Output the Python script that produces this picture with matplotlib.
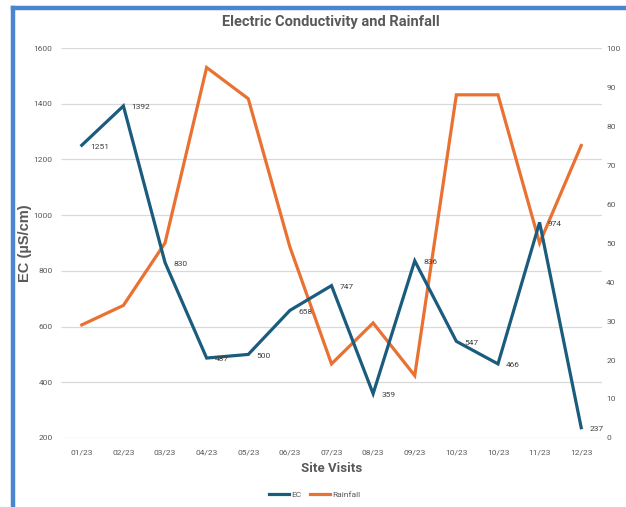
import matplotlib
matplotlib.use("Agg")
import matplotlib.pyplot as plt
from matplotlib.lines import Line2D
from matplotlib import font_manager
import numpy as np

categories = ["01/23", "02/23", "03/23", "04/23", "05/23", "06/23", "07/23",
              "08/23", "09/23", "10/23", "10/23", "11/23", "12/23"]
ec_values = [1251, 1392, 830, 487, 500, 658, 747, 359, 836, 547, 466, 974, 237]
rain_values = [29, 34, 50, 95, 87, 49, 19, 29.5, 16, 88, 88, 50, 75]
left_ticks = [200, 400, 600, 800, 1000, 1200, 1400, 1600]
right_ticks = [0, 10, 20, 30, 40, 50, 60, 70, 80, 90, 100]

EC_COLOR = "#1B5C7E"
RAIN_COLOR = "#E97132"
TXT = "#595959"

names = {f.name for f in font_manager.fontManager.ttflist}
NARROW = "Liberation Sans Narrow" if "Liberation Sans Narrow" in names else "Roboto"

fig = plt.figure(figsize=(6.26, 5.07), dpi=100)
ax = fig.add_axes([0.0974, 0.1361, 0.8643, 0.7692])
ax2 = ax.twinx()
ax.set_zorder(ax2.get_zorder() + 1)
ax.patch.set_visible(False)

x = np.arange(len(categories))
# horizontal gridlines at the left-axis ticks, drawn beneath both lines
ax2.hlines(left_ticks, 0, 1, transform=ax.get_yaxis_transform(),
           color="#D9D9D9", lw=0.9, zorder=0)
ax2.plot(x, rain_values, color=RAIN_COLOR, lw=2.3, solid_joinstyle="miter", zorder=2)
ax.plot(x, ec_values, color=EC_COLOR, lw=2.3, solid_joinstyle="miter", zorder=3)

for xi, v in zip(x, ec_values):
    ax.annotate(str(v), (xi, v), xytext=(6, -1), textcoords="offset points",
                ha="left", va="center", fontsize=6, color="#404040", zorder=4,
                family=NARROW)

ax.set_xlim(-0.5, len(categories) - 0.5)
ax.set_ylim(200, 1600)
ax2.set_ylim(0, 100)
ax.set_yticks(left_ticks)
ax2.set_yticks(right_ticks)
ax.set_xticks(x)
ax.set_xticklabels(categories)

for a in (ax, ax2):
    for s in a.spines.values():
        s.set_visible(False)
    a.tick_params(length=0, labelsize=6, colors=TXT)
    for lab in a.get_xticklabels() + a.get_yticklabels():
        lab.set_family(NARROW)
ax.tick_params(axis="y", pad=6)
ax2.tick_params(axis="y", pad=3)
ax.tick_params(axis="x", pad=8)

ax.set_ylabel("EC (µS/cm)", fontsize=10.5, fontweight="bold", color=TXT,
              family="Liberation Sans")
ax.yaxis.set_label_coords(-0.053, 0.5)
ax.set_xlabel("Site Visits", fontsize=9.5, fontweight="bold", color=TXT,
              family=NARROW, labelpad=5)
fig.text(0.529, 0.956, "Electric Conductivity and Rainfall", ha="center", va="center",
         fontsize=10.5, fontweight="bold", color=TXT, family=NARROW)

handles = [Line2D([], [], color=EC_COLOR, lw=2.3), Line2D([], [], color=RAIN_COLOR, lw=2.3)]
fig.legend(handles, ["EC", "Rainfall"], loc="center", bbox_to_anchor=(0.503, 0.025),
           ncol=2, frameon=False, handlelength=2.4, handletextpad=0.3,
           columnspacing=1.0, labelcolor=TXT, prop={"family": NARROW, "size": 6})

# blue frame (left and top)
fig.add_artist(Line2D([0.02, 0.02], [0, 0.985], color="#4A86D0", lw=3.2, transform=fig.transFigure))
fig.add_artist(Line2D([0.02, 1.0], [0.985, 0.985], color="#4A86D0", lw=3.2, transform=fig.transFigure))

fig.savefig("out.png", dpi=100)
